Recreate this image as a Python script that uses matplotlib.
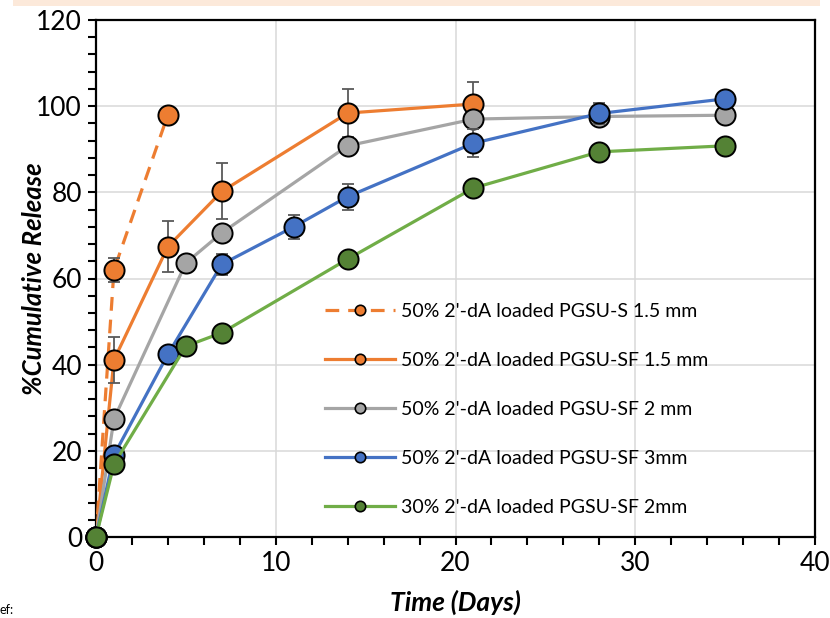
import matplotlib
matplotlib.use("Agg")
import matplotlib.pyplot as plt
from matplotlib.patches import Rectangle
from matplotlib.ticker import MultipleLocator

plt.rcParams['font.family'] = ['Lato', 'DejaVu Sans']

# ---- data ----
labels = [
    "50% 2'-dA loaded PGSU-S 1.5 mm",
    "50% 2'-dA loaded PGSU-SF 1.5 mm",
    "50% 2'-dA loaded PGSU-SF 2 mm",
    "50% 2'-dA loaded PGSU-SF 3mm",
    "30% 2'-dA loaded PGSU-SF 2mm",
]
s_x = [0, 1, 4]
s_y = [0, 62.0, 98.0]
s_err = [0, 2.8, 0]

sf15_x = [0, 1, 4, 7, 14, 21]
sf15_y = [0, 41.1, 67.4, 80.2, 98.4, 100.5]
sf15_err = [0, 5.4, 6.0, 6.5, 5.6, 5.1]

sf2_x = [0, 1, 5, 7, 14, 21, 28, 35]
sf2_y = [0, 27.4, 63.6, 70.6, 90.8, 97.0, 97.6, 97.9]

sf3_x = [0, 1, 4, 7, 11, 14, 21, 28, 35]
sf3_y = [0, 19.0, 42.4, 63.3, 72.0, 79.0, 91.4, 98.3, 101.7]
sf3_err = [0, 0, 0, 2.5, 2.8, 3.0, 3.3, 2.5, 0]

sf2_30_x = [0, 1, 5, 7, 14, 21, 28, 35]
sf2_30_y = [0, 16.9, 44.3, 47.4, 64.5, 81.0, 89.4, 90.8]

orange = '#ED7D31'
gray = '#A5A5A5'
blue = '#4472C4'
green_line = '#70AD47'
green_fill = '#548235'

fig = plt.figure(figsize=(8.3, 6.18), dpi=100)
fig.patches.append(Rectangle((13/830, 612/618), 807/830, 6/618, transform=fig.transFigure,
                             facecolor='#FCE9DA', edgecolor='none', zorder=0))
ax = fig.add_axes([96/830, (618-537)/618, 719/830, 517/618])

lw = 2.3
ms = 14.5
mew = 1.4
err_kw = dict(fmt='none', ecolor='#595959', elinewidth=1.3, capsize=4.5, capthick=1.3)

series = [
    (s_x, s_y, s_err, orange, orange, (0, (4.3, 2.8))),
    (sf15_x, sf15_y, sf15_err, orange, orange, '-'),
    (sf2_x, sf2_y, None, gray, gray, '-'),
    (sf3_x, sf3_y, sf3_err, blue, blue, '-'),
    (sf2_30_x, sf2_30_y, None, green_line, green_fill, '-'),
]

handles = []
z = 3
for (x, y, e, lc, fc, ls), lab in zip(series, labels):
    ax.plot(x, y, color=lc, lw=lw, linestyle=ls, zorder=z)
    if e is not None:
        ax.errorbar(x, y, yerr=e, zorder=z + 0.5, **err_kw)
    ax.plot(x, y, linestyle='none', marker='o', ms=ms, mfc=fc, mec='black',
            mew=mew, zorder=z + 1, clip_on=False)
    h, = ax.plot([], [], color=lc, lw=lw, linestyle=ls, marker='o', ms=7.5,
                 mfc=fc, mec='black', mew=1.2, label=lab)
    handles.append(h)
    z += 2

ax.set_xlim(0, 40)
ax.set_ylim(0, 120)
ax.xaxis.set_major_locator(MultipleLocator(10))
ax.xaxis.set_minor_locator(MultipleLocator(2))
ax.yaxis.set_major_locator(MultipleLocator(20))
ax.yaxis.set_minor_locator(MultipleLocator(4))
ax.grid(True, which='major', color='#D9D9D9', lw=1.1, zorder=0)
ax.set_axisbelow(True)
for sp in ax.spines.values():
    sp.set_linewidth(1.6)
    sp.set_color('black')
ax.tick_params(which='both', direction='out', length=6, width=1.5, labelsize=19, pad=4)

ax.set_xlabel('Time (Days)', fontsize=19, fontweight='bold', style='italic', labelpad=10)
ax.set_ylabel('%Cumulative Release', fontsize=18.5, fontweight='bold', style='italic', labelpad=-7)

leg = ax.legend(handles=handles, loc='upper left', bbox_to_anchor=(0.318, 0.453),
                frameon=False, fontsize=14, handlelength=3.6, handletextpad=0.35,
                labelspacing=1.65, borderpad=0, borderaxespad=0)

fig.text(0.0, 0.003, 'ef:', fontsize=9, ha='left', va='bottom')

fig.savefig('out.png', dpi=100)
